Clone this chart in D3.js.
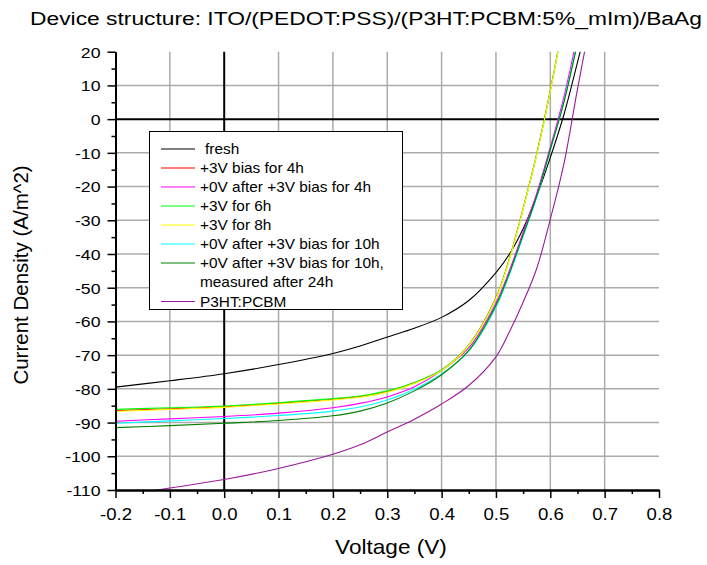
<!DOCTYPE html>
<html>
<head>
<meta charset="utf-8">
<script src="https://cdn.jsdelivr.net/npm/d3@7"></script>
<style>
  body { margin: 0; background: #fff; }
  svg { display: block; }
  text { font-family: Arial, "Liberation Sans", sans-serif; fill: #000; }
</style>
</head>
<body>
<svg id="chart" width="707" height="565"></svg>
<script>
// ---- data ----
const titleText = "Device structure: ITO/(PEDOT:PSS)/(P3HT:PCBM:5%_mIm)/BaAg";
const xLabel = "Voltage (V)";
const yLabel = "Current Density (A/m^2)";
const voltages = [-0.2, -0.1, 0.0, 0.1, 0.2, 0.25, 0.3, 0.35, 0.4, 0.45, 0.5, 0.525, 0.55, 0.575, 0.6, 0.625, 0.65, 0.675];
const seriesNames = ["fresh", "+3V bias for 4h", "+0V after +3V bias for 4h", "+3V for 6h", "+3V for 8h",
  "+0V after +3V bias for 10h", "+0V after +3V bias for 10h,\nmeasured after 24h", "P3HT:PCBM"];
const seriesColors = ["#000000", "#ff0000", "#ff00ff", "#00ff00", "#ffff00", "#00ffff", "#008000", "#9a1a9a"];
const fresh      = [-79.5, -77.6, -75.5, -72.8, -69.5, -67.3, -64.6, -62.0, -58.8, -53.8, -45.5, -40.0, -32.5, -22.8, -11.4, 1.3, 16.8, 33];
const bias4h     = [-86.4, -85.9, -85.3, -84.3, -83.1, -82.3, -80.8, -78.2, -74.4, -67.0, -53.0, -41.2, -26.5, -10.3, 8.5, 30, 55, 80];
const zero4h     = [-89.6, -88.9, -88.2, -87.2, -85.6, -84.3, -82.4, -79.4, -74.6, -67.8, -54.5, -44.8, -33.5, -22.0, -8.3, 6.5, 25, 45];
const bias6h     = [-86.1, -85.6, -85.1, -84.1, -82.9, -82.1, -80.6, -78.1, -74.4, -67.1, -53.2, -41.4, -26.7, -10.5, 8.3, 29.8, 54.8, 80];
const bias8h     = [-86.7, -86.1, -85.5, -84.5, -83.3, -82.5, -81.0, -78.4, -74.6, -67.2, -53.3, -41.5, -26.8, -10.6, 8.2, 29.6, 54.5, 80];
const zero10h    = [-90.2, -89.5, -88.8, -87.9, -86.6, -85.4, -83.3, -80.1, -75.6, -68.8, -55.8, -46.0, -34.8, -23.2, -9.2, 5.2, 23.2, 43];
const zero10h24h = [-91.5, -90.9, -90.2, -89.4, -88.0, -86.6, -84.2, -80.6, -75.8, -68.6, -55.2, -45.5, -34.3, -22.8, -9.0, 5.0, 22.5, 42];
const p3htPcbm   = [-112, -109.4, -106.9, -103.6, -99.4, -96.6, -92.8, -89.0, -84.5, -79.0, -70.5, -63.0, -54.3, -44.3, -29.7, -13.3, 8.9, 30];
const seriesValues = [fresh, bias4h, zero4h, bias6h, bias8h, zero10h, zero10h24h, p3htPcbm];
const xTicks = [-0.2, -0.1, 0.0, 0.1, 0.2, 0.3, 0.4, 0.5, 0.6, 0.7, 0.8];
const yTicks = [20, 10, 0, -10, -20, -30, -40, -50, -60, -70, -80, -90, -100, -110];

// ---- layout ----
const FONT = "Arial, 'Liberation Sans', sans-serif";
const svg = d3.select("#chart");
const L = 115.5, R = 659, T = 51.7, B = 490;
const x = d3.scaleLinear().domain([-0.2, 0.8]).range([L, R]);
const y = d3.scaleLinear().domain([-110, 20]).range([B, T]);

// stretched text helper (reference text is horizontally wide)
function stretchedText(parent, px, py, str, size, sx, anchor, rotate) {
  const g = parent.append("g")
    .attr("transform", `translate(${px},${py})` + (rotate ? ` rotate(${rotate})` : "") + ` scale(${sx},1)`);
  return g.append("text").attr("font-size", size).attr("text-anchor", anchor || "start").text(str);
}

svg.append("defs").append("clipPath").attr("id", "plotclip")
  .append("rect").attr("x", L).attr("y", T).attr("width", R - L).attr("height", B - T);

// grid
const grid = svg.append("g");
grid.selectAll("line.gx").data(xTicks.filter(v => v > -0.2 && v < 0.8 && Math.abs(v) > 1e-9))
  .join("line").attr("class", "gx").attr("x1", d => x(d)).attr("x2", d => x(d)).attr("y1", T).attr("y2", B)
  .attr("stroke", "#ababab").attr("stroke-width", 1.5);
grid.selectAll("line.gy").data(yTicks.filter(v => v < 20 && v > -110 && v !== 0))
  .join("line").attr("class", "gy").attr("x1", L).attr("x2", R).attr("y1", d => y(d)).attr("y2", d => y(d))
  .attr("stroke", "#ababab").attr("stroke-width", 1.5);
// zero lines
grid.append("line").attr("x1", x(0)).attr("x2", x(0)).attr("y1", T).attr("y2", B)
  .attr("stroke", "#000").attr("stroke-width", 2);
grid.append("line").attr("x1", L).attr("x2", R).attr("y1", y(0)).attr("y2", y(0))
  .attr("stroke", "#000").attr("stroke-width", 2);

// curves
const line = d3.line().x((d, i) => x(voltages[i])).y(d => y(d)).curve(d3.curveCatmullRom.alpha(0.5));
const curves = svg.append("g").attr("clip-path", "url(#plotclip)");
seriesValues.forEach((vals, i) => {
  curves.append("path").attr("d", line(vals)).attr("fill", "none")
    .attr("stroke", seriesColors[i]).attr("stroke-width", 1.1);
});

// axes
const fmtX = v => d3.format(".1f")(v).replace("−", "-");
const fmtY = v => String(v);
const xAxis = svg.append("g").attr("transform", `translate(0,${B})`)
  .call(d3.axisBottom(x).tickValues(xTicks).tickFormat(fmtX).tickSize(8).tickSizeOuter(0));
const xMinor = svg.append("g").attr("transform", `translate(0,${B})`)
  .call(d3.axisBottom(x).tickValues(d3.range(-0.15, 0.8, 0.1)).tickFormat("").tickSize(4).tickSizeOuter(0));
const yAxis = svg.append("g").attr("transform", `translate(${L},0)`)
  .call(d3.axisLeft(y).tickValues(yTicks).tickFormat(fmtY).tickSize(8).tickSizeOuter(0));
const yMinor = svg.append("g").attr("transform", `translate(${L},0)`)
  .call(d3.axisLeft(y).tickValues(d3.range(-105, 20, 10)).tickFormat("").tickSize(4).tickSizeOuter(0));
[xAxis, xMinor, yAxis, yMinor].forEach(g => {
  g.select(".domain").attr("stroke", "#000").attr("stroke-width", 2);
  g.selectAll(".tick line").attr("stroke", "#000").attr("stroke-width", 1.5);
});
const sxTick = 1.14;
xAxis.selectAll(".tick text").attr("font-size", 16.3).attr("dy", null).attr("y", 30)
  .attr("transform", `scale(${sxTick},1)`).style("font-family", FONT);
yAxis.selectAll(".tick text").attr("font-size", 15.5).attr("x", -15 / sxTick).attr("dy", "0.35em")
  .attr("transform", `scale(${sxTick},1)`).style("font-family", FONT);

// labels
stretchedText(svg, 366, 25, titleText, 19, 1.2, "middle");
stretchedText(svg, 391, 554, xLabel, 20, 1.13, "middle");
stretchedText(svg, 28, 275, yLabel, 20.5, 1.0, "middle", -90);

// legend
const lg = svg.append("g");
lg.append("rect").attr("x", 149.5).attr("y", 131.5).attr("width", 253).attr("height", 178)
  .attr("fill", "#fff").attr("stroke", "#000").attr("stroke-width", 1);
const rowY = [149, 168, 187, 206, 225, 244, 263, 301.5];
seriesNames.forEach((name, i) => {
  const yy = rowY[i];
  lg.append("line").attr("x1", 161).attr("x2", 195).attr("y1", yy).attr("y2", yy)
    .attr("stroke", seriesColors[i]).attr("stroke-width", 1.2);
  name.split("\n").forEach((t, k) => {
    stretchedText(lg, i === 0 ? 205 : 200, yy + 5 + k * 19.2, t, 14, 1.1, "start");
  });
});
</script>
</body>
</html>
